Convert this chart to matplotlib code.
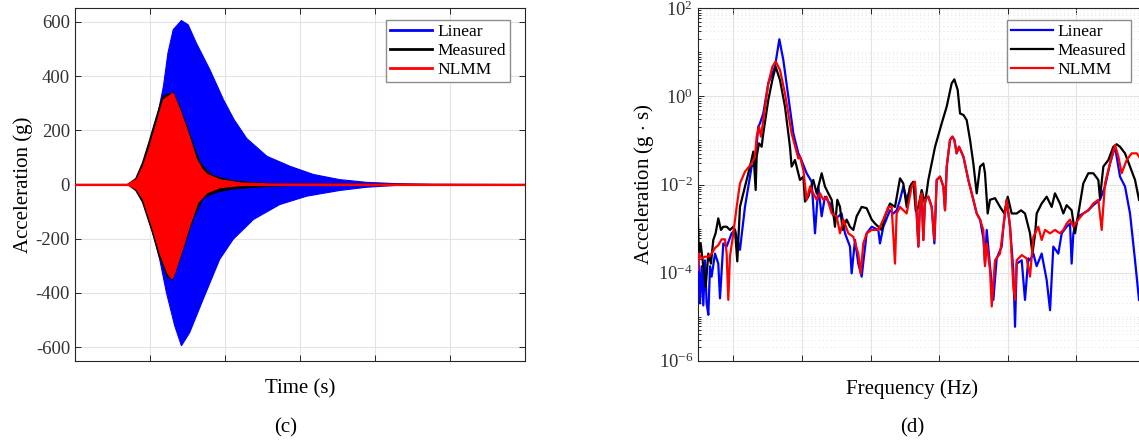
import numpy as np
import matplotlib.pyplot as plt
from matplotlib.lines import Line2D
from matplotlib.ticker import FixedLocator, NullFormatter

plt.rcParams['font.family'] = ['Liberation Serif', 'DejaVu Serif']
plt.rcParams['mathtext.fontset'] = 'custom'
plt.rcParams['mathtext.rm'] = 'Liberation Serif'
plt.rcParams['mathtext.it'] = 'Liberation Serif:italic'
plt.rcParams['axes.unicode_minus'] = False

# ---- (c) time response envelopes (g) ----
lin_t_up = [0, 0.72, 0.82, 0.91, 1.0, 1.09, 1.18, 1.24, 1.31, 1.42, 1.51, 1.62, 1.80, 1.98,
            2.12, 2.29, 2.56, 2.87, 3.18, 3.53, 3.89, 4.3, 4.8, 6]
lin_up = [0, 0, 18, 67, 141, 240, 362, 485, 571, 605, 589, 521, 423, 313,
          240, 170, 104, 67, 37, 18, 8, 3, 0, 0]
lin_t_lo = [0, 0.72, 0.82, 0.91, 1.0, 1.06, 1.13, 1.22, 1.33, 1.42, 1.53, 1.71, 1.93, 2.11,
            2.38, 2.73, 3.09, 3.53, 3.89, 4.3, 4.8, 6]
lin_lo = [0, 0, -18, -55, -140, -200, -276, -399, -521, -595, -546, -423, -276, -202,
          -129, -74, -43, -22, -10, -3, 0, 0]

ms_t_up = [0, 0.70, 0.73, 0.81, 0.90, 0.99, 1.08, 1.17, 1.31, 1.40, 1.51, 1.62, 1.67, 1.76,
           1.84, 1.95, 2.11, 2.4, 2.8, 6]
ms_up = [0, 0, 6, 22, 80, 160, 245, 325, 340, 285, 200, 115, 80, 50,
         33, 24, 13, 6, 2, 0]
ms_t_lo = [0, 0.70, 0.73, 0.81, 0.90, 1.03, 1.12, 1.23, 1.29, 1.31, 1.42, 1.53, 1.60, 1.71,
           1.89, 2.11, 2.5, 3.0, 6]
ms_lo = [0, 0, -6, -22, -65, -175, -262, -340, -349, -345, -260, -165, -112, -50,
         -28, -16, -8, -2, 0]

nl_t_up = [0, 0.70, 0.73, 0.82, 0.91, 1.0, 1.09, 1.18, 1.31, 1.40, 1.51, 1.62, 1.70, 1.76,
           1.93, 2.2, 2.6, 6]
nl_up = [0, 0, 6, 18, 67, 141, 227, 313, 337, 276, 190, 95, 55, 38, 18, 6, 2, 0]
nl_t_lo = [0, 0.70, 0.73, 0.82, 0.91, 1.04, 1.13, 1.24, 1.29, 1.31, 1.42, 1.53, 1.64, 1.76,
           1.93, 2.2, 2.6, 6]
nl_lo = [0, 0, -6, -18, -55, -166, -251, -330, -347, -343, -251, -153, -67, -31,
         -12, -4, -1, 0]

# ---- (d) spectra (g*s) ----
lin_f = [490, 514, 538, 563, 587, 611, 636, 660, 684, 733, 781, 806, 854, 903, 976, 1024,
         1097, 1170, 1267, 1316, 1364, 1389, 1437, 1510, 1607, 1671, 1729, 1802, 1875, 1948,
         1972, 2069, 2142, 2191, 2239, 2288, 2336, 2409, 2482, 2579, 2628, 2701, 2725, 2774,
         2822, 2871, 2944, 3017, 3114, 3138, 3187, 3284, 3333, 3381, 3430, 3478, 3527, 3600,
         3649, 3673, 3698, 3722, 3746, 3770, 3795, 3843, 3892, 3931, 3965, 4013, 4062, 4086,
         4111, 4159, 4193, 4222, 4256, 4290, 4354, 4426, 4499, 4548, 4597, 4645, 4669, 4694,
         4742, 4791, 4839, 4912, 4937, 4985, 5034, 5082, 5107, 5131, 5204, 5252, 5300,
         5325, 5374, 5422, 5495, 5568, 5617, 5665, 5738, 5787, 5859, 5908, 5932, 5957, 6030,
         6102, 6175, 6248, 6345, 6418, 6491, 6564, 6637, 6710, 6783, 6856, 6914]
lin_a = [2.7e-4, 2.0e-5, 1.4e-4, 1.8e-5, 1.9e-4, 2.0e-5, 1.1e-5, 1.4e-4, 8.1e-5, 2.7e-4,
         1.6e-4, 2.6e-5, 4.6e-4, 3.9e-4, 7.8e-4, 9.3e-4,
         3.3e-4, 3.1e-3, 0.0255, 0.030, 0.206, 0.245, 0.41, 1.98, 4.7, 19.8, 6.7, 0.99, 0.145, 0.051,
         0.043, 0.018, 0.0116, 7.8e-4, 9.0e-3, 1.9e-3, 5.3e-3, 3.7e-3, 1.6e-3, 2.2e-3, 7.8e-4,
         3.9e-4, 9.6e-5, 5.5e-4,
         1.6e-4, 8.1e-5, 7.8e-4, 1.1e-3, 9.3e-4, 4.6e-4, 1.1e-3, 2.6e-3, 2.2e-3, 2.6e-3, 4.5e-3,
         9.0e-3, 4.5e-3, 0.0106,
         9.0e-3, 2.2e-3, 3.9e-4, 4.5e-3, 6.3e-3, 5.5e-4, 4.5e-3, 5.3e-3, 3.1e-3, 4.6e-4, 0.0127,
         0.0151, 9.0e-3, 2.6e-3,
         0.0255, 0.103, 0.122, 0.103, 0.051, 0.072, 0.043, 0.0127, 4.5e-3, 2.2e-3, 1.6e-3,
         6.0e-4, 1.6e-4, 9.3e-4,
         1.4e-4, 2.4e-5, 2.1e-4, 3.9e-4, 1.1e-3, 4.5e-3, 1.1e-3, 1.1e-4, 5.9e-6, 1.6e-4, 1.9e-4,
         2.4e-5, 2.1e-4,
         1.9e-4, 2.7e-4, 1.4e-4, 2.7e-4, 6.8e-5, 1.4e-5, 3.9e-4, 2.7e-4, 7.8e-4, 1.1e-3, 1.3e-3,
         1.6e-4, 7.8e-4, 1.9e-3,
         2.2e-3, 2.6e-3, 3.4e-3, 4.5e-3, 9.0e-3, 0.030, 0.072, 0.0151, 9.0e-3, 2.2e-3, 1.9e-4, 2.4e-5]

ms_f = [485, 497, 524, 558, 597, 636, 674, 708, 742, 781, 820, 854, 903, 951, 1000, 1024,
        1058, 1097, 1170, 1243, 1292, 1326, 1340, 1374, 1413, 1437, 1510, 1569, 1617, 1680,
        1753, 1826, 1850, 1899, 1972, 2021, 2045, 2093, 2166, 2215, 2264, 2288, 2336, 2385,
        2434, 2482, 2516, 2555, 2594, 2652, 2701, 2749, 2798, 2871, 2944, 3017, 3065, 3114,
        3162, 3211, 3284, 3357, 3430, 3478, 3527, 3575, 3624, 3660, 3698, 3746, 3795, 3843,
        3941, 4038, 4111, 4183, 4222, 4271, 4305, 4354, 4402, 4451, 4499, 4548, 4597, 4645,
        4669, 4708, 4742, 4815, 4888, 4951, 5000, 5058, 5131, 5194, 5252, 5325, 5360, 5400,
        5422, 5495, 5568, 5641, 5689, 5762, 5811, 5859, 5932, 5981, 6030, 6102, 6175, 6248,
        6321, 6345, 6394, 6467, 6540, 6588, 6637, 6710, 6783, 6856, 6914]
ms_a = [1.7e-3, 2.7e-4, 4.6e-4, 1.6e-4, 4.8e-5, 2.7e-4, 1.6e-4, 5.5e-4, 7.8e-4, 1.7e-3,
        9.3e-4, 1.1e-3, 1.1e-3, 9.3e-4, 1.1e-3, 9.3e-4,
        1.8e-4, 3.1e-3, 9.0e-3, 0.0255, 0.056, 7.5e-3, 0.043, 0.086, 0.072, 0.145, 0.83, 2.36,
        4.7, 2.36,
        0.59, 0.072, 0.0255, 0.036, 0.0127, 0.0151, 4.1e-3, 5.3e-3, 0.0127, 6.3e-3, 0.0127,
        0.018, 9.0e-3, 6.3e-3,
        4.5e-3, 1.1e-3, 4.5e-3, 3.1e-3, 9.3e-4, 1.6e-3, 1.1e-3, 9.3e-4, 1.9e-3, 3.1e-3, 2.9e-3,
        1.6e-3, 1.3e-3, 1.1e-3,
        9.3e-4, 1.9e-3, 3.7e-3, 3.1e-3, 0.0138, 0.0106, 3.1e-3, 9.0e-3, 0.0116, 2.5e-3, 3.1e-3,
        7.5e-3, 3.7e-3, 0.0127,
        0.072, 0.245, 0.59, 1.98, 2.44, 1.40, 0.41, 0.38, 0.29, 0.103, 0.030, 6.3e-3, 0.0255,
        0.030,
        0.018, 2.2e-3, 4.5e-3, 4.9e-3, 3.1e-3, 2.2e-3, 5.3e-3, 2.2e-3, 2.2e-3, 2.6e-3, 2.2e-3,
        7.8e-4, 2.7e-4, 7.8e-4,
        2.2e-3, 3.7e-3, 5.3e-3, 3.1e-3, 6.3e-3, 3.7e-3, 2.2e-3, 3.4e-3, 2.6e-3, 7.8e-4, 2.2e-3,
        0.0106, 0.018, 0.018,
        0.0127, 4.9e-3, 0.0255, 0.036, 0.072, 0.082, 0.072, 0.051, 0.0255, 0.0127, 4.5e-3]

nl_f = [485, 495, 538, 587, 636, 684, 733, 781, 830, 879, 903, 927, 951, 1000, 1049, 1097,
        1170, 1267, 1316, 1340, 1374, 1403, 1437, 1510, 1569, 1617, 1680, 1753, 1850, 1948,
        1972, 2021, 2069, 2118, 2166, 2215, 2264, 2312, 2361, 2434, 2507, 2555, 2604, 2677,
        2749, 2822, 2856, 2895, 2944, 3017, 3114, 3187, 3260, 3308, 3357, 3381, 3430, 3527,
        3600, 3648, 3673, 3698, 3722, 3746, 3770, 3795, 3843, 3892, 3931, 3965, 4013, 4062,
        4086, 4111, 4159, 4193, 4222, 4256, 4290, 4354, 4426, 4499, 4548, 4597, 4645, 4669,
        4694, 4742, 4767, 4815, 4888, 4937, 4985, 5034, 5082, 5107, 5131, 5204, 5277, 5325,
        5374, 5446, 5495, 5544, 5617, 5689, 5762, 5811, 5859, 5908, 5957, 6030, 6102, 6175,
        6248, 6321, 6370, 6418, 6491, 6564, 6613, 6661, 6734, 6807, 6880, 6914]
nl_a = [1.15e-4, 2.7e-4, 2.1e-4, 2.3e-4, 2.3e-4, 2.7e-4, 3.6e-4, 4.2e-4, 5.7e-4, 5.7e-4,
        2.7e-4, 2.4e-5, 2.3e-4, 7.8e-4, 3.1e-3, 0.0106,
        0.0196, 0.030, 0.043, 0.122, 0.206, 0.122, 0.29, 1.98, 4.7, 6.2, 4.0, 1.17, 0.145, 0.039,
        0.043, 0.0214, 4.5e-3, 9.0e-3, 6.3e-3, 4.5e-3, 6.3e-3, 4.5e-3, 5.3e-3, 2.2e-3, 1.9e-3,
        7.8e-4, 1.6e-3, 7.8e-4,
        6.5e-4, 2.7e-4, 9.6e-5, 4.6e-4, 7.8e-4, 9.3e-4, 9.3e-4, 1.6e-3, 3.1e-3, 3.1e-3, 1.6e-4,
        2.2e-3, 3.1e-3, 2.2e-3,
        9.0e-3, 0.0116, 2.2e-3, 3.9e-4, 4.5e-3, 6.3e-3, 5.5e-4, 4.5e-3, 5.3e-3, 3.1e-3, 5.5e-4,
        0.0127, 0.0151, 9.0e-3,
        2.6e-3, 0.0255, 0.103, 0.122, 0.103, 0.051, 0.072, 0.043, 0.0127, 4.5e-3, 2.2e-3,
        1.6e-3, 9.3e-4, 1.4e-4,
        4.6e-4, 1.15e-4, 1.7e-5, 1.9e-4, 2.7e-4, 1.1e-3, 4.5e-3, 1.1e-3, 4.8e-5, 2.4e-5, 1.9e-4,
        2.5e-4, 2.1e-4, 8.1e-5,
        6.5e-4, 1.1e-3, 5.5e-4, 9.3e-4, 7.8e-4, 9.3e-4, 7.8e-4, 9.3e-4, 1.3e-3, 1.6e-3, 1.1e-3,
        1.6e-3, 2.2e-3, 2.6e-3,
        3.7e-3, 4.5e-3, 9.3e-4, 0.0106, 0.030, 0.079, 0.043, 0.018, 0.036, 0.051, 0.051, 0.043]

labels = ['Linear', 'Measured', 'NLMM']
colors = ['#0000ff', '#000000', '#ff0000']
axcol = '#262626'
gridcol = '#e3e3e3'

fig = plt.figure(figsize=(11.39, 4.42), dpi=100)
ax1 = fig.add_axes([0.0658, 0.1839, 0.3951, 0.7973])
ax2 = fig.add_axes([0.6128, 0.1839, 0.3951, 0.7973])

# (c)
for tu, up, tl, lo, c in [(lin_t_up, lin_up, lin_t_lo, lin_lo, colors[0]),
                          (ms_t_up, ms_up, ms_t_lo, ms_lo, colors[1]),
                          (nl_t_up, nl_up, nl_t_lo, nl_lo, colors[2])]:
    xs = np.r_[tu, tl[::-1]]
    ys = np.r_[up, lo[::-1]]
    ax1.fill(xs, ys, color=c, lw=0.8, zorder=2)
ax1.axhline(0, color=colors[2], lw=1.6, zorder=3)
ax1.set_xlim(0, 6)
ax1.set_ylim(-650, 650)
ax1.set_xticks([1, 2, 3, 4, 5])
ax1.set_xticklabels([])
ax1.set_yticks(range(-600, 601, 200))
ax1.set_xlabel('Time (s)', fontsize=15, labelpad=10)
ax1.set_ylabel('Acceleration (g)', fontsize=15, labelpad=2)
handles = [Line2D([], [], color=c, lw=2) for c in colors]
ax1.legend(handles, labels, loc='upper right', bbox_to_anchor=(0.967, 0.967),
           borderaxespad=0, fancybox=False, edgecolor='#8c8c8c', framealpha=1,
           fontsize=12.5, handlelength=2.4, handletextpad=0.3, labelspacing=0.15,
           borderpad=0.25)

# (d)
for f, a, c, lab in [(lin_f, lin_a, colors[0], labels[0]),
                     (ms_f, ms_a, colors[1], labels[1]),
                     (nl_f, nl_a, colors[2], labels[2])]:
    ax2.plot(f, a, color=c, lw=1.6, label=lab, zorder=3)
ax2.set_yscale('log')
ax2.set_ylim(1e-6, 1e2)
ax2.set_xlim(485, 7045)
ax2.set_xticks(range(1000, 7001, 1000))
ax2.set_xticklabels([])
ax2.yaxis.set_major_locator(FixedLocator([1e-6, 1e-4, 1e-2, 1e0, 1e2]))
ax2.set_yticklabels([r'$10^{-6}$', r'$10^{-4}$', r'$10^{-2}$', r'$10^{0}$', r'$10^{2}$'])
minors = [m * 10.0 ** e for e in range(-6, 2) for m in range(2, 10)] + \
         [10.0 ** e for e in (-5, -3, -1, 1)]
ax2.yaxis.set_minor_locator(FixedLocator(minors))
ax2.yaxis.set_minor_formatter(NullFormatter())
ax2.grid(True, which='minor', axis='y', color='#e2e2e2', lw=0.7, dashes=(1, 3))
ax2.set_xlabel('Frequency (Hz)', fontsize=15, labelpad=10)
ax2.set_ylabel(r'Acceleration (g $\cdot$ s)', fontsize=15, labelpad=2)
ax2.legend(loc='upper right', bbox_to_anchor=(0.962, 0.967),
           borderaxespad=0, fancybox=False, edgecolor='#8c8c8c', framealpha=1,
           fontsize=12.5, handlelength=2.4, handletextpad=0.3, labelspacing=0.15,
           borderpad=0.25)

for ax in (ax1, ax2):
    ax.grid(True, which='major', color=gridcol, lw=0.8)
    ax.set_axisbelow(True)
    ax.tick_params(which='both', direction='in', top=True, right=True, colors=axcol,
                   labelcolor='#333333', labelsize=13.5, width=0.7)
    ax.tick_params(which='major', length=4)
    ax.tick_params(which='minor', length=2)
    for s in ax.spines.values():
        s.set_color(axcol)
        s.set_linewidth(0.8)

# frequency label sits left of the axes centre in the original
ax2.xaxis.label.set_x(0.476)

fig.text(286 / 1139, 1 - 428 / 442, '(c)', ha='center', va='center', fontsize=15)
fig.text(912 / 1139, 1 - 428 / 442, '(d)', ha='center', va='center', fontsize=15)

fig.savefig('out.png', dpi=100)
